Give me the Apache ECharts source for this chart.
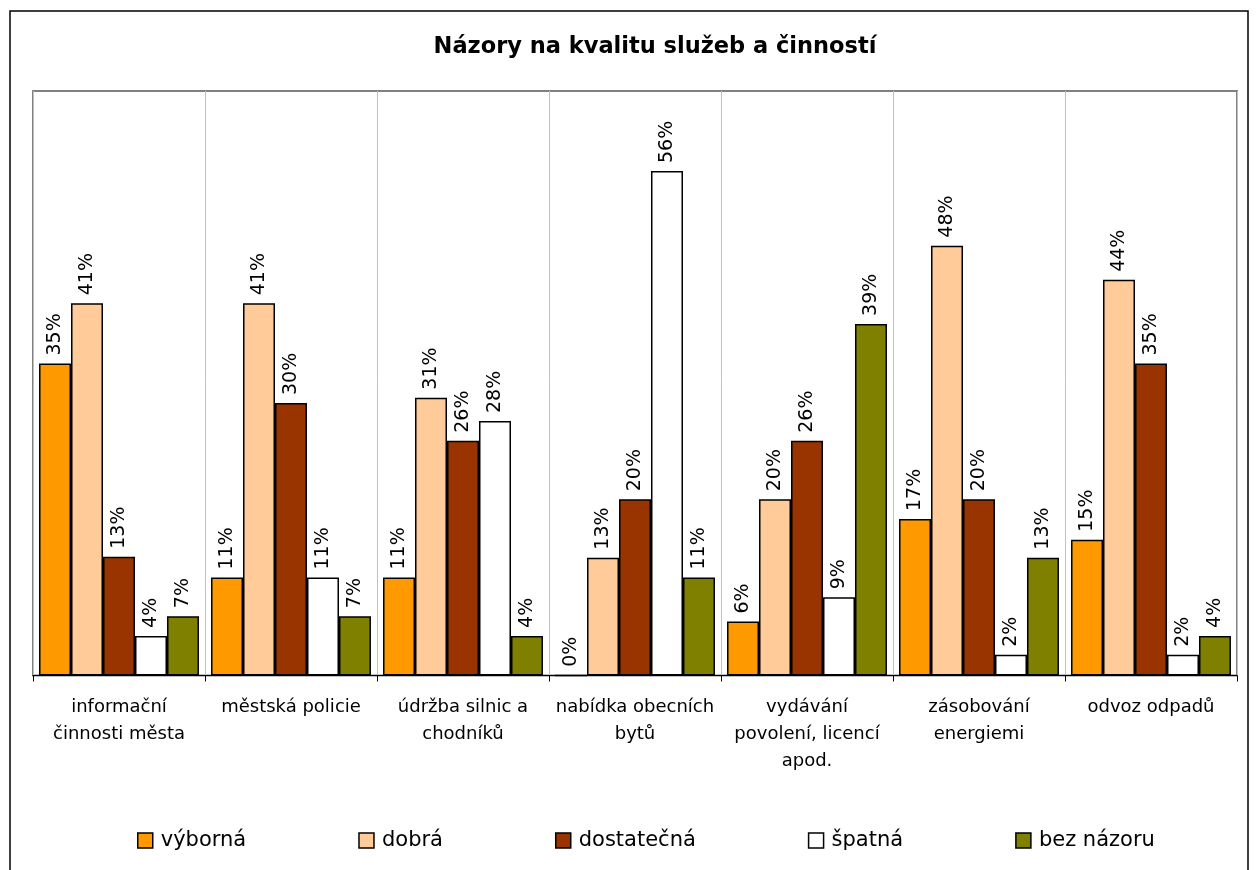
<!DOCTYPE html>
<html>
<head>
<meta charset="utf-8">
<script src="https://cdn.jsdelivr.net/npm/echarts@6/dist/echarts.min.js"></script>
<style>
  html, body { margin: 0; padding: 0; background: #fff; }
  #chart { width: 1259px; height: 870px; }
</style>
</head>
<body>
<div id="chart"></div>
<script>
const titleText = 'Názory na kvalitu služeb a činností';
const categories = [
  'informační\nčinnosti města',
  'městská policie',
  'údržba silnic a\nchodníků',
  'nabídka obecních\nbytů',
  'vydávání\npovolení, licencí\napod.',
  'zásobování\nenergiemi',
  'odvoz odpadů'
];
const seriesNames = ['výborná', 'dobrá', 'dostatečná', 'špatná', 'bez názoru'];
const vyborna    = [34.7, 10.9, 10.9, 0.0, 6.0, 17.4, 15.1];
const dobra      = [41.4, 41.4, 30.9, 13.1, 19.6, 47.8, 44.0];
const dostatecna = [13.2, 30.3, 26.1, 19.6, 26.1, 19.6, 34.7];
const spatna     = [4.4, 10.9, 28.3, 56.1, 8.7, 2.3, 2.3];
const bezNazoru  = [6.6, 6.6, 4.4, 10.9, 39.1, 13.1, 4.4];
const seriesData = [vyborna, dobra, dostatecna, spatna, bezNazoru];
const colors = ['#FF9900', '#FFCC99', '#993300', '#FFFFFF', '#808000'];

const FONT = 'DejaVu Sans';
const chart = echarts.init(document.getElementById('chart'), null, { renderer: 'canvas' });

const series = seriesNames.map((name, i) => ({
  name: name,
  type: 'bar',
  data: seriesData[i],
  barGap: '0%',
  barCategoryGap: '7%',
  itemStyle: { color: colors[i], borderColor: '#000', borderWidth: 1.5 },
  label: {
    show: true,
    position: 'top',
    rotate: 90,
    align: 'left',
    verticalAlign: 'middle',
    distance: 8,
    fontFamily: FONT,
    fontSize: 19,
    color: '#000',
    formatter: p => Math.round(p.value) + '%'
  },
  emphasis: { disabled: true }
}));

chart.setOption({
  animation: false,
  backgroundColor: '#fff',
  title: {
    text: titleText,
    left: 650,
    textAlign: 'center',
    top: 31,
    textStyle: { fontFamily: FONT, fontWeight: 'bold', fontSize: 22.5, color: '#000' }
  },
  legend: {
    data: seriesNames,
    left: 137,
    top: 830,
    padding: 0,
    itemGap: 112,
    itemWidth: 15,
    itemHeight: 15,
    icon: 'rect',
    itemStyle: { borderColor: '#000', borderWidth: 1.5 },
    textStyle: { fontFamily: FONT, fontSize: 21, color: '#000', padding: [0, 0, 0, 3] },
    selectedMode: false
  },
  grid: {
    left: 33, right: 22, top: 91, bottom: 194.5,
    show: true, borderColor: '#808080', borderWidth: 2, backgroundColor: '#fff',
    containLabel: false
  },
  xAxis: {
    type: 'category',
    data: categories,
    boundaryGap: true,
    axisLine: { show: true, lineStyle: { color: '#000', width: 1 } },
    axisTick: { show: true, length: 6, lineStyle: { color: '#000' } },
    axisLabel: {
      interval: 0, fontFamily: FONT, fontSize: 18, lineHeight: 27,
      color: '#000', margin: 18, align: 'center'
    },
    splitLine: { show: true, lineStyle: { color: '#c0c0c0', width: 1 } }
  },
  yAxis: {
    type: 'value',
    min: 0, max: 65,
    axisLine: { show: false },
    axisTick: { show: false },
    axisLabel: { show: false },
    splitLine: { show: false }
  },
  series: series,
  graphic: [{
    type: 'rect',
    silent: true,
    shape: { x: 10, y: 11, width: 1238, height: 900 },
    style: { fill: 'none', stroke: '#000', lineWidth: 1.5 },
    z: 100
  }]
});
</script>
</body>
</html>
